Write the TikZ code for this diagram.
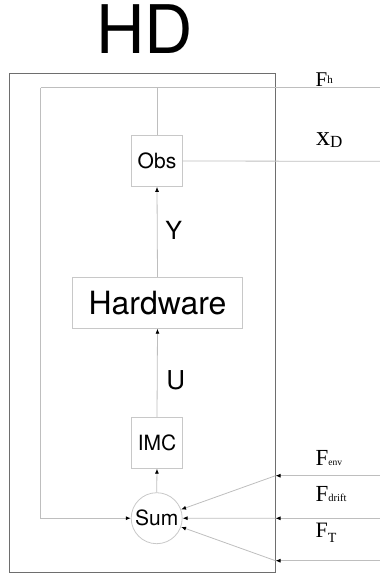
\documentclass[tikz,border=0pt]{standalone}
\usepackage{fontspec}
\setmainfont{Liberation Serif}
\setsansfont{TeX Gyre Heros}
\usetikzlibrary{arrows.meta}
\definecolor{framegray}{RGB}{110,110,110}
\definecolor{boxgray}{RGB}{200,200,200}
\definecolor{wiregray}{RGB}{190,190,190}
\newcommand{\fs}[1]{\fontsize{#1}{#1}\selectfont}
\tikzset{
  blk/.style={draw=boxgray, line width=0.8pt, inner sep=0pt, font=\sffamily},
  wire/.style={draw=wiregray, line width=0.8pt},
  arr/.style={wire, -{Latex[color=black,length=5pt,width=4pt]}},
  lbl/.style={inner sep=0pt, anchor=base west},
}
\begin{document}
\begin{tikzpicture}[x=1pt,y=-1pt]
\useasboundingbox (0,0) rectangle (380,579);
% title
\node[inner sep=0pt, anchor=base, font=\sffamily\fs{67}] (title) at (144.5,53) {HD};
% frame
\node[draw=framegray, line width=0.9pt, minimum width=266pt, minimum height=499.5pt, inner sep=0pt] (frame) at (142.5,323) {};
% blocks
\node[blk, minimum width=50.6pt, minimum height=51pt, font=\sffamily\fs{21}] (obs) at (157,161) {Obs};
\node[blk, minimum width=170.4pt, minimum height=51pt, font=\sffamily\fs{32}] (hw) at (157.5,302.8) {Hardware};
\node[blk, minimum width=50.6pt, minimum height=51pt, font=\sffamily\fs{21}] (imc) at (157,442.8) {IMC};
\node[blk, circle, minimum size=51pt, font=\sffamily\fs{21}] (sum) at (156.7,518.2) {Sum};
% signal labels
\node[inner sep=0pt, font=\sffamily\fs{25}] (ylbl) at (173.7,230) {Y};
\node[inner sep=0pt, font=\sffamily\fs{26}] (ulbl) at (175.7,380.5) {U};
% coordinates
\coordinate (tl) at (40.7,87.7);
\coordinate (tr) at (380,87.7);
\coordinate (xdout) at (380,161.3);
\coordinate (envin) at (380,475.7);
\coordinate (envb) at (275.5,475.7);
\coordinate (drin) at (380,518.3);
\coordinate (drb) at (275.5,518.3);
\coordinate (tin) at (380,560.7);
\coordinate (tb) at (275.5,560.7);
% wires
\draw[wire] (tl) -- (tr);
\draw[wire] (obs.north) -- (obs.north |- tl);
\draw[arr] (tl) |- (sum.west);
\draw[wire] (obs.east) -- (xdout);
\draw[arr] (hw.north) -- (obs.south);
\draw[arr] (imc.north) -- (hw.south);
\draw[arr] (sum.north) -- (imc.south);
\draw[arr] (envin) -- (envb);
\draw[arr] (envb) -- (sum);
\draw[arr] (drin) -- (drb);
\draw[arr] (drb) -- (sum.east);
\draw[arr] (tin) -- (tb);
\draw[arr] (tb) -- (sum);
% external labels
\node[lbl] (fh) at (315.5,86) {\fs{21}F\raisebox{3pt}{\fs{11}h}};
\node[lbl] (xd) at (316,145) {\fs{28}x\raisebox{-2pt}{\fs{17}D}};
\node[lbl] (fenv) at (315.5,465) {\fs{23}F\fs{9.5}env};
\node[lbl] (fdrift) at (315.5,501.7) {\fs{23}F\fs{10.5}drift};
\node[lbl] (ft) at (315.5,537.7) {\fs{22}F\raisebox{-5pt}{\fs{14}T}};
\end{tikzpicture}
\end{document}
